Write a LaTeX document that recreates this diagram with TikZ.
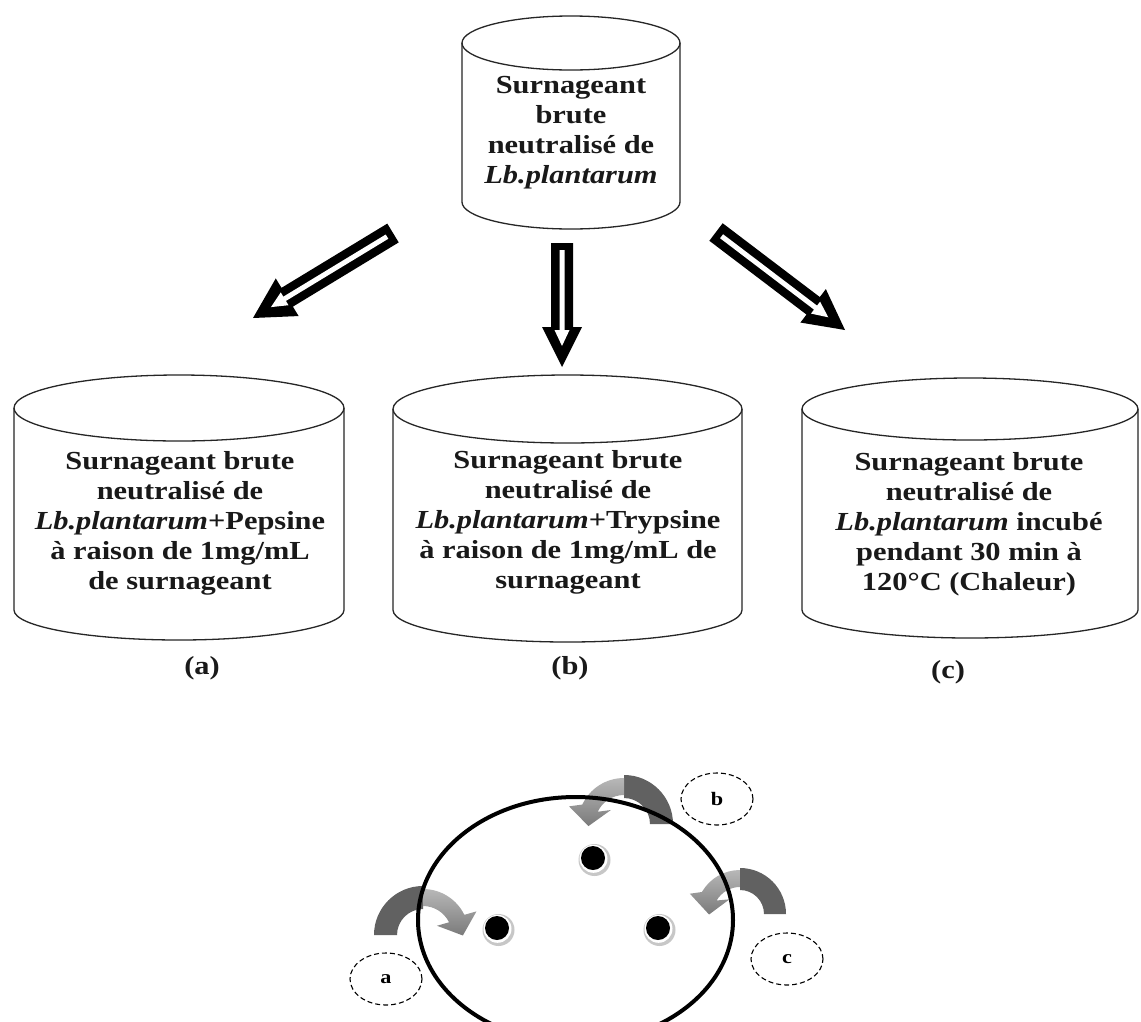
\documentclass[tikz,border=0pt]{standalone}
\usepackage{fontspec}
\setmainfont{Liberation Serif}[FakeStretch=1.17]
\usetikzlibrary{calc,shapes.geometric}
% cylinder outline: L R T eT B eB (pixel units, y downward)
\newcommand\drawcyl[6]{%
  \draw[cyl] (#1,-#3) -- (#1,-#5) arc[start angle=180,end angle=360,x radius={(#2-#1)/2},y radius=#6] -- (#2,-#3);
  \draw[cyl] ({(#1+#2)/2},-#3) ellipse[x radius={(#2-#1)/2}, y radius=#4];
}
% hollow block arrow from named coordinate #1 to named coordinate #2, head half-width #3
\newcommand\hollowarrow[3]{%
  \coordinate (hb) at ($(#2)!40pt!(#1)$);
  \coordinate (s7) at ($(#1)!7pt!(#2)$);
  \coordinate (hi) at ($(#2)!37pt!(#1)$);
  \coordinate (ti) at ($(#2)!21pt!(#1)$);
  \fill[black] ($(#1)!11pt!90:(#2)$) -- ($(hb)!11pt!90:(#2)$) -- ($(hb)!#3!90:(#2)$) -- (#2)
     -- ($(hb)!#3!-90:(#2)$) -- ($(hb)!11pt!-90:(#2)$) -- ($(#1)!11pt!-90:(#2)$) -- cycle;
  \fill[white] ($(s7)!2.5pt!90:(#2)$) -- ($(hi)!2.5pt!90:(#2)$) -- ($(hi)!7.5pt!90:(#2)$) -- (ti)
     -- ($(hi)!7.5pt!-90:(#2)$) -- ($(hi)!2.5pt!-90:(#2)$) -- ($(s7)!2.5pt!-90:(#2)$) -- cycle;
}
\begin{document}
\begin{tikzpicture}[x=1pt,y=1pt,
  cyl/.style={line width=1.3pt, draw=black!85},
  cyltext/.style={align=center, font=\fontsize{26}{30}\selectfont\bfseries, text=black!90, inner sep=0pt},
  lbl/.style={font=\fontsize{26}{30}\selectfont\bfseries, text=black!90, inner sep=0pt},
  tag/.style={draw, dashed, dash pattern=on 5pt off 3pt, line width=1.1pt, ellipse,
    minimum width=72pt, minimum height=52pt, inner sep=0pt, font=\fontsize{19}{22}\selectfont\bfseries},
  darkarc/.style={fill=black!62},
  lightarc/.style={top color=black!28, bottom color=black!52},
]
\fill[white] (0,0) rectangle (1141,-1021);
\useasboundingbox (0,0) rectangle (1141,-1021);

% ---------- cylinders ----------
\drawcyl{462}{680}{43}{27}{202}{27}
\drawcyl{14}{344}{408}{33}{610}{30}
\drawcyl{393}{742}{409}{34}{610}{32}
\drawcyl{802}{1138}{409}{31}{610}{28}

\node[cyltext] (ttop) at (571,-133) {Surnageant\\brute\\neutralisé de\\\textit{Lb.plantarum}};
\node[cyltext] (ta) at (180,-523) {Surnageant brute\\neutralisé de\\\textit{Lb.plantarum}+Pepsine\\à raison de 1mg/mL\\de surnageant};
\node[cyltext] (tb) at (568,-522) {Surnageant brute\\neutralisé de\\\textit{Lb.plantarum}+Trypsine\\à raison de 1mg/mL de\\surnageant};
\node[cyltext] (tc) at (969,-524) {Surnageant brute\\neutralisé de\\\textit{Lb.plantarum} incubé\\pendant 30 min à\\120°C (Chaleur)};

\node[lbl] (capa) at (202,-668) {(a)};
\node[lbl] (capb) at (570,-668) {(b)};
\node[lbl] (capc) at (948,-672) {(c)};

% ---------- hollow arrows ----------
\coordinate (arL-s) at (393,-233); \coordinate (arL-e) at (253,-318);
\coordinate (arM-s) at (562,-243); \coordinate (arM-e) at (562,-367);
\coordinate (arR-s) at (716,-232); \coordinate (arR-e) at (845,-330);
\hollowarrow{arL-s}{arL-e}{22pt}
\hollowarrow{arM-s}{arM-e}{20pt}
\hollowarrow{arR-s}{arR-e}{21pt}

% ---------- curved arrows ----------
\coordinate (Ca) at (423,-935);
\coordinate (Ba) at ($(Ca)+(26:37.5)$);
\fill[darkarc] ($(Ca)+(180:49)$) arc[start angle=180,end angle=90,radius=49]
   -- ($(Ca)+(90:26)$) arc[start angle=90,end angle=180,radius=26] -- cycle;
\shade[lightarc] ($(Ca)+(90:46)$) arc[start angle=90,end angle=26,radius=46]
   -- ($(Ba)+(20:21)$) -- ($(Ba)+(-70:18)$) -- ($(Ba)+(200:21)$)
   -- ($(Ca)+(26:29)$) arc[start angle=26,end angle=90,radius=29] -- cycle;

\coordinate (Cb) at (624,-824);
\coordinate (Bb) at ($(Cb)+(155:37.5)$);
\fill[darkarc] ($(Cb)+(0:49)$) arc[start angle=0,end angle=90,radius=49]
   -- ($(Cb)+(90:26)$) arc[start angle=90,end angle=0,radius=26] -- cycle;
\shade[lightarc] ($(Cb)+(90:46)$) arc[start angle=90,end angle=155,radius=46]
   -- ($(Bb)+(175:21)$) -- ($(Bb)+(265:18)$) -- ($(Bb)+(-5:21)$)
   -- ($(Cb)+(155:29)$) arc[start angle=155,end angle=90,radius=29] -- cycle;

\coordinate (Cc) at (740,-914);
\coordinate (Bc) at ($(Cc)+(150:35)$);
\fill[darkarc] ($(Cc)+(0:46)$) arc[start angle=0,end angle=90,radius=46]
   -- ($(Cc)+(90:24)$) arc[start angle=90,end angle=0,radius=24] -- cycle;
\shade[lightarc] ($(Cc)+(90:44)$) arc[start angle=90,end angle=150,radius=44]
   -- ($(Bc)+(172:20)$) -- ($(Bc)+(268:18)$) -- ($(Bc)+(-8:20)$)
   -- ($(Cc)+(150:27)$) arc[start angle=150,end angle=90,radius=27] -- cycle;

% ---------- petri dish ----------
\draw[line width=4pt] (575.5,-920) ellipse[x radius=157.5, y radius=123];
\coordinate (wb) at (593,-858);
\coordinate (wa) at (497,-928);
\coordinate (wc) at (658,-928);
\foreach \w in {wa,wb,wc}{
  \fill[black!22] ($(\w)+(1.5,-2)$) circle[radius=16];
  \fill[white] ($(\w)+(0.5,-0.8)$) circle[radius=14];
  \fill[black] (\w) circle[radius=12];
}

\node[tag] (la) at (386,-979) {a};
\node[tag] (lb) at (717,-799) {b};
\node[tag] (lc) at (787,-959) {c};
\end{tikzpicture}
\end{document}
